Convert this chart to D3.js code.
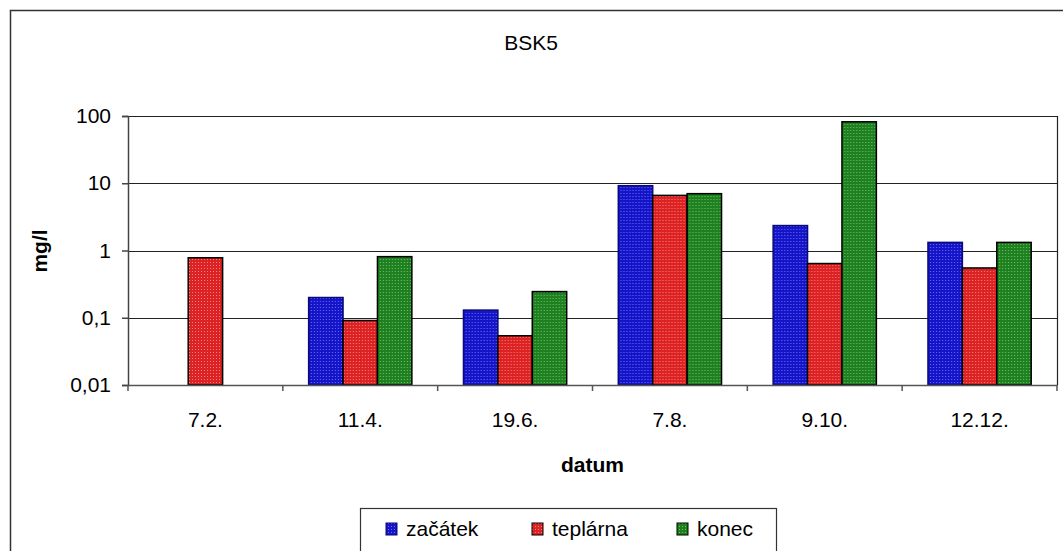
<!DOCTYPE html>
<html>
<head>
<meta charset="utf-8">
<script src="https://cdn.jsdelivr.net/npm/d3@7/dist/d3.min.js"></script>
<style>
  body { margin: 0; background: #fff; }
  svg { display: block; font-family: Arial, "Liberation Sans", sans-serif; }
</style>
</head>
<body>
<svg width="1063" height="551"></svg>
<script>
//data
const dates = ["7.2.", "11.4.", "19.6.", "7.8.", "9.10.", "12.12."];
const series_names = ["začátek", "teplárna", "konec"];
const zacatek  = [null, 0.2, 0.13, 9.2, 2.35, 1.32];
const teplarna = [0.78, 0.091, 0.054, 6.6, 0.64, 0.55];
const konec    = [null, 0.81, 0.245, 7.0, 82, 1.32];
const y_ticks = [0.01, 0.1, 1, 10, 100];
const y_tick_labels = ["0,01", "0,1", "1", "10", "100"];

const series_values = [zacatek, teplarna, konec];

//pattern colors (base, dots, outline)
const styles = [
    { base: "#1414c8", dot: "#6e6ef0", stroke: "#0a0a78" },
    { base: "#dc2222", dot: "#f88080", stroke: "#000000" },
    { base: "#1f801f", dot: "#6cc06c", stroke: "#000000" }
];

const svg = d3.select("svg");

//plot area
const plot = { left: 128, right: 1057, top: 116, bottom: 385 };
const font_size = "21px";

//patterns for the dotted bars
const defs = svg.append("defs");
styles.forEach((s, i) => {
    const p = defs.append("pattern")
        .attr("id", "pat" + i)
        .attr("patternUnits", "userSpaceOnUse")
        .attr("width", 3)
        .attr("height", 3);
    p.append("rect").attr("width", 3).attr("height", 3).attr("fill", s.base);
    p.append("rect").attr("x", 1).attr("y", 1).attr("width", 1).attr("height", 1).attr("fill", s.dot);
});

//outer chart border
svg.append("rect")
    .attr("x", 10.5).attr("y", 10.5)
    .attr("width", 1070).attr("height", 600)
    .attr("fill", "none")
    .attr("stroke", "#333")
    .attr("stroke-width", 1.5);

//scales
const x0 = d3.scaleBand()
    .domain(dates)
    .range([plot.left, plot.right])
    .padding(0);
const x1 = d3.scaleBand()
    .domain(series_names)
    .range([0, x0.bandwidth()])
    .paddingInner(0)
    .paddingOuter(0.75);
const y = d3.scaleLog()
    .domain([0.01, 100])
    .range([plot.bottom, plot.top]);

//gridlines
svg.append("g")
    .selectAll("line")
    .data(y_ticks.slice(1))
    .enter()
    .append("line")
    .attr("x1", plot.left).attr("x2", plot.right)
    .attr("y1", d => Math.round(y(d)) + 0.5)
    .attr("y2", d => Math.round(y(d)) + 0.5)
    .attr("stroke", "#222")
    .attr("stroke-width", 1.2);

//right edge of plot
svg.append("line")
    .attr("x1", plot.right + 0.5).attr("x2", plot.right + 0.5)
    .attr("y1", plot.top).attr("y2", plot.bottom)
    .attr("stroke", "#222")
    .attr("stroke-width", 1.2);

//bars
const groups = svg.selectAll(".date-group")
    .data(dates)
    .enter()
    .append("g")
    .attr("class", "date-group")
    .attr("transform", d => `translate(${x0(d)}, 0)`);

groups.selectAll("rect")
    .data((d, i) => series_names.map((name, k) => ({ name, k, value: series_values[k][i] }))
        .filter(e => e.value !== null))
    .enter()
    .append("rect")
    .attr("x", d => x1(d.name))
    .attr("y", d => y(d.value))
    .attr("width", x1.bandwidth())
    .attr("height", d => plot.bottom - y(d.value))
    .attr("fill", d => `url(#pat${d.k})`)
    .attr("stroke", d => styles[d.k].stroke)
    .attr("stroke-width", 1.5);

//y axis
const yAxis = svg.append("g")
    .attr("transform", `translate(${plot.left}, 0)`)
    .call(d3.axisLeft(y)
        .tickValues(y_ticks)
        .tickFormat((d, i) => y_tick_labels[i])
        .tickSize(6)
        .tickPadding(11));
yAxis.selectAll("text")
    .attr("font-size", font_size)
    .attr("font-family", "Arial, 'Liberation Sans', sans-serif")
    .attr("fill", "#000");
yAxis.selectAll("line, path").attr("stroke", "#444").attr("stroke-width", 1.5);

//x axis
const xAxis = svg.append("g")
    .attr("transform", `translate(0, ${plot.bottom})`)
    .call(d3.axisBottom(x0).tickSize(0).tickPadding(27));
xAxis.select("path").attr("stroke", "#555").attr("stroke-width", 1.5);
xAxis.selectAll("text")
    .attr("font-size", font_size)
    .attr("font-family", "Arial, 'Liberation Sans', sans-serif")
    .attr("fill", "#000");

//category separator ticks
svg.append("g")
    .selectAll("line")
    .data(dates.concat(["end"]))
    .enter()
    .append("line")
    .attr("x1", (d, i) => i < dates.length ? x0(d) : plot.right)
    .attr("x2", (d, i) => i < dates.length ? x0(d) : plot.right)
    .attr("y1", plot.bottom)
    .attr("y2", plot.bottom + 6)
    .attr("stroke", "#555")
    .attr("stroke-width", 1.5);

//title
svg.append("text")
    .attr("x", 531)
    .attr("y", 50)
    .attr("text-anchor", "middle")
    .attr("font-size", font_size)
    .attr("fill", "#000")
    .text("BSK5");

//axis titles
svg.append("text")
    .attr("transform", "translate(47, 251) rotate(-90)")
    .attr("text-anchor", "middle")
    .attr("font-size", font_size)
    .attr("font-weight", "bold")
    .attr("fill", "#000")
    .text("mg/l");
svg.append("text")
    .attr("x", (plot.left + plot.right) / 2)
    .attr("y", 472)
    .attr("text-anchor", "middle")
    .attr("font-size", font_size)
    .attr("font-weight", "bold")
    .attr("fill", "#000")
    .text("datum");

//legend
const legend = svg.append("g");
legend.append("rect")
    .attr("x", 360.5).attr("y", 508.5)
    .attr("width", 416).attr("height", 60)
    .attr("fill", "#fff")
    .attr("stroke", "#333")
    .attr("stroke-width", 1.2);

const legend_x = [386, 532, 677];
series_names.forEach((name, i) => {
    legend.append("rect")
        .attr("x", legend_x[i])
        .attr("y", 523)
        .attr("width", 11)
        .attr("height", 12)
        .attr("fill", `url(#pat${i})`)
        .attr("stroke", styles[i].stroke)
        .attr("stroke-width", 1);
    legend.append("text")
        .attr("x", legend_x[i] + 20)
        .attr("y", 536)
        .attr("font-size", font_size)
        .attr("fill", "#000")
        .text(name);
});
</script>
</body>
</html>
